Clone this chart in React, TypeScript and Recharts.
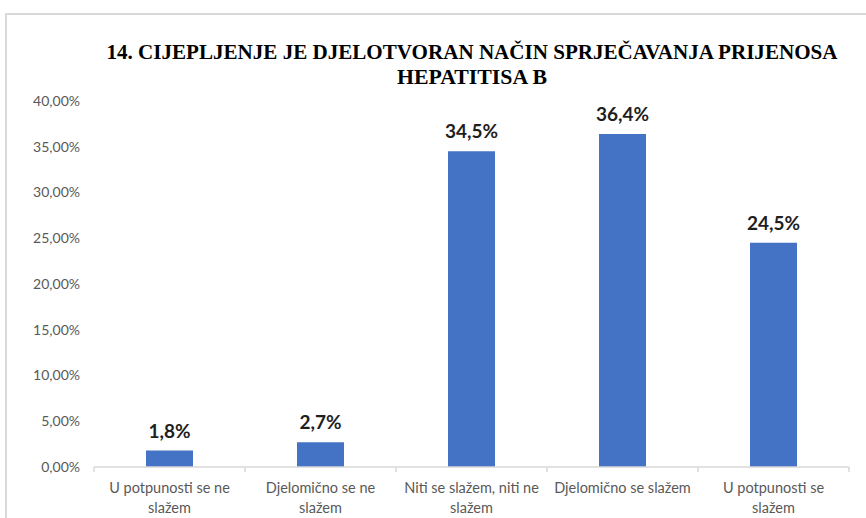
import { BarChart, Bar, XAxis, YAxis, LabelList } from 'recharts';

// kategorije (po redovima kako su prelomljene ispod osi)
const categoryLines = [
	['U potpunosti se ne', 'slažem'],
	['Djelomično se ne', 'slažem'],
	['Niti se slažem, niti ne', 'slažem'],
	['Djelomično se slažem'],
	['U potpunosti se', 'slažem'],
];
const categories = categoryLines.map((l) => l.join(' '));
const shares = [0.018, 0.027, 0.345, 0.364, 0.245];
const yTicks = [0, 0.05, 0.1, 0.15, 0.2, 0.25, 0.3, 0.35, 0.4];
const titleLines = ['14. CIJEPLJENJE JE DJELOTVORAN NAČIN SPRJEČAVANJA PRIJENOSA', 'HEPATITISA B'];

const data = categories.map((name, i) => ({ name, value: shares[i] }));

const FONT = "Lato, 'DejaVu Sans', sans-serif";
const SERIF = "'Liberation Serif', 'Times New Roman', serif";
const GRAY = '#595959';

// postotak s decimalnim zarezom
const pct = (v: number, digits: number) => (v * 100).toFixed(digits).replace('.', ',') + '%';

const CategoryTick = (props: any) => {
	const { x, y, payload, index } = props;
	const half = payload.offset ?? 0;
	const last = index === categories.length - 1;
	const lines = categoryLines[index] ?? [String(payload.value)];
	return (
		<g>
			<line x1={x - half} x2={x - half} y1={y} y2={y + 5} stroke='#d9d9d9' strokeWidth={1.5} />
			{last && <line x1={x + half} x2={x + half} y1={y} y2={y + 5} stroke='#d9d9d9' strokeWidth={1.5} />}
			<text x={x} y={y} textAnchor='middle' style={{ fontFamily: FONT, fontSize: 14.5, fill: GRAY }}>
				{lines.map((t, i) => (
					<tspan key={i} x={x} y={y + 26 + i * 20}>
						{t}
					</tspan>
				))}
			</text>
		</g>
	);
};

export default function App() {
	return (
		<div style={{ position: 'absolute', left: 0, top: 0, width: 866, height: 518, overflow: 'hidden', background: '#fff' }}>
			<div
				style={{
					position: 'absolute',
					left: 5,
					top: 13,
					width: 900,
					height: 600,
					border: '2px solid #d9d9d9',
				}}
			/>
			<svg width={866} height={100} style={{ position: 'absolute', left: 0, top: 0 }}>
				<text x={472} y={59} textAnchor='middle' textLength={731} lengthAdjust='spacingAndGlyphs' fontFamily={SERIF} fontWeight='bold' fontSize={21} fill='#000'>
					{titleLines[0]}
				</text>
				<text x={472} y={84} textAnchor='middle' textLength={150} lengthAdjust='spacingAndGlyphs' fontFamily={SERIF} fontWeight='bold' fontSize={21} fill='#000'>
					{titleLines[1]}
				</text>
			</svg>
			<div style={{ position: 'absolute', left: 0, top: 0 }}>
				<BarChart width={866} height={518} data={data} margin={{ top: 101, right: 17, bottom: 0, left: 0 }}>
					<XAxis
						dataKey='name'
						height={51}
						axisLine={{ stroke: '#d9d9d9', strokeWidth: 1.5 }}
						tickLine={false}
						tickSize={0}
						tickMargin={0}
						interval={0}
						tick={<CategoryTick />}
					/>
					<YAxis
						width={94}
						domain={[0, 0.4]}
						ticks={yTicks}
						axisLine={false}
						tickLine={false}
						tickMargin={8}
						tickFormatter={(v: number) => pct(v, 2)}
						tick={{ fontFamily: FONT, fontSize: 14, fill: GRAY }}
					/>
					<Bar dataKey='value' fill='#4472C4' barSize={47} isAnimationActive={false}>
						<LabelList
							dataKey='value'
							position='top'
							offset={13}
							formatter={(v: any) => pct(Number(v), 1)}
							style={{ fontFamily: FONT, fontSize: 19, fontWeight: 'bold', fill: '#1f1f1f' }}
						/>
					</Bar>
				</BarChart>
			</div>
		</div>
	);
}
